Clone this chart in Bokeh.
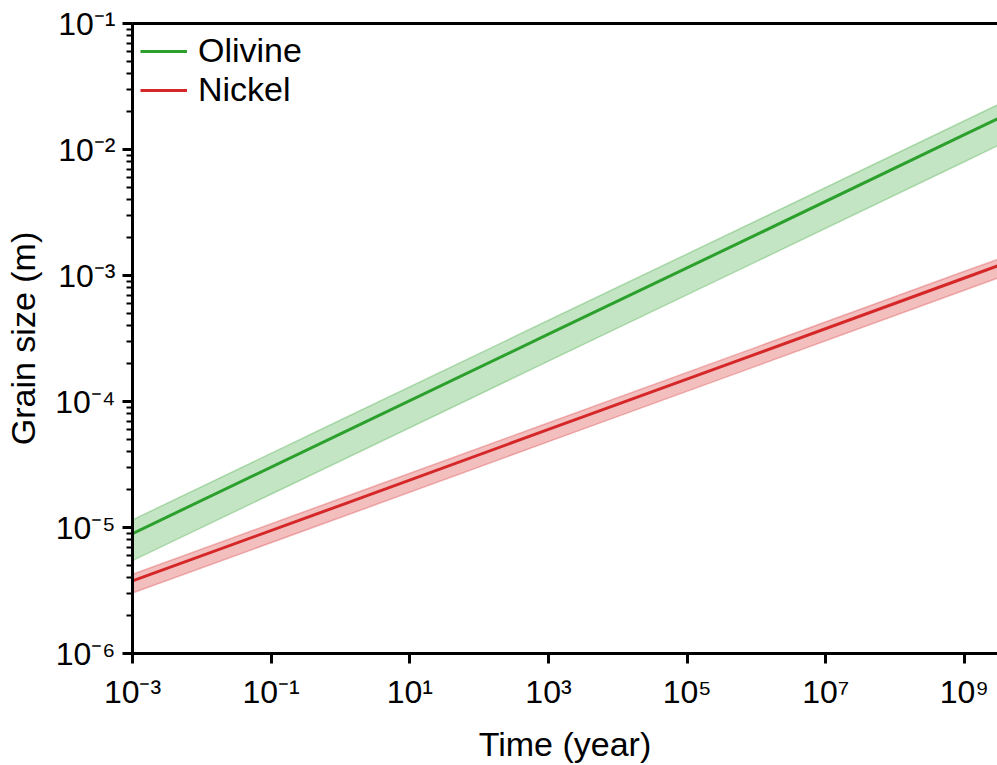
from bokeh.plotting import figure
from bokeh.models import FixedTicker, LogTicker, LogAxis, Legend, LegendItem, ColumnDataSource
from bokeh.embed import file_html
from bokeh.resources import INLINE

# Data (log-log straight lines with uncertainty bands)
time_year = [1e-3, 1e0, 1e3, 1e6, 1e9, 3e9]

olivine_mid = [8.95e-6, 5.53e-5, 3.42e-4, 2.11e-3, 1.31e-2, 1.75e-2]
olivine_hi = [1.15e-5, 7.13e-5, 4.41e-4, 2.72e-3, 1.69e-2, 2.26e-2]
olivine_lo = [5.46e-6, 3.37e-5, 2.09e-4, 1.29e-3, 7.99e-3, 1.07e-2]

nickel_mid = [3.77e-6, 1.50e-5, 6.00e-5, 2.39e-4, 9.55e-4, 1.19e-3]
nickel_hi = [4.26e-6, 1.70e-5, 6.78e-5, 2.70e-4, 1.08e-3, 1.34e-3]
nickel_lo = [3.02e-6, 1.20e-5, 4.80e-5, 1.91e-4, 7.64e-4, 9.52e-4]

x_ticks = [1e-3, 1e-1, 1e1, 1e3, 1e5, 1e7, 1e9]
x_tick_labels = ["10⁻³", "10⁻¹", "10¹", "10³", "10⁵", "10⁷", "10⁹"]
y_ticks = [1e-6, 1e-5, 1e-4, 1e-3, 1e-2, 1e-1]
y_tick_labels = ["10⁻⁶", "10⁻⁵", "10⁻⁴", "10⁻³", "10⁻²", "10⁻¹"]

GREEN = "#2ca02c"
RED = "#d62728"
FONT = "Liberation Sans"

p = figure(width=997, height=765, x_axis_type="log", y_axis_type="log",
           x_range=(1e-3, 3e9), y_range=(1e-6, 1e-1),
           output_backend="svg", toolbar_location=None,
           min_border_left=132, min_border_right=0, min_border_top=23, min_border_bottom=108)
p.outline_line_color = None
p.xgrid.visible = False
p.ygrid.visible = False
p.background_fill_color = "white"

src = ColumnDataSource(dict(t=time_year, om=olivine_mid, oh=olivine_hi, ol=olivine_lo,
                            nm=nickel_mid, nh=nickel_hi, nl=nickel_lo))

# bands
p.varea(x="t", y1="ol", y2="oh", source=src, fill_color=GREEN, fill_alpha=0.28)
p.line(x="t", y="oh", source=src, line_color=GREEN, line_alpha=0.3, line_width=1.5)
p.line(x="t", y="ol", source=src, line_color=GREEN, line_alpha=0.3, line_width=1.5)
p.varea(x="t", y1="nl", y2="nh", source=src, fill_color=RED, fill_alpha=0.3)
p.line(x="t", y="nh", source=src, line_color=RED, line_alpha=0.3, line_width=1.5)
p.line(x="t", y="nl", source=src, line_color=RED, line_alpha=0.3, line_width=1.5)

r_ol = p.line(x="t", y="om", source=src, line_color=GREEN, line_width=3)
r_ni = p.line(x="t", y="nm", source=src, line_color=RED, line_width=3)

legend = Legend(items=[LegendItem(label="Olivine", renderers=[r_ol]),
                       LegendItem(label="Nickel", renderers=[r_ni])],
                location="top_left")
legend.border_line_color = None
legend.background_fill_alpha = 0
legend.label_text_font = FONT
legend.label_text_font_size = "34px"
legend.label_text_color = "black"
legend.glyph_width = 47
legend.glyph_height = 38
legend.label_height = 38
legend.label_standoff = 11
legend.spacing = 0
legend.padding = 0
legend.margin = 8
p.add_layout(legend)

# axes
for ax in (p.xaxis[0], p.yaxis[0]):
    ax.axis_line_width = 3
    ax.major_tick_line_width = 3
    ax.minor_tick_line_width = 2
    ax.major_tick_out = 10
    ax.major_tick_in = 0
    ax.minor_tick_out = 6
    ax.minor_tick_in = 0
    ax.major_label_text_font = FONT
    ax.major_label_text_font_size = "32px"
    ax.major_label_text_color = "black"
    ax.axis_label_text_font = FONT
    ax.axis_label_text_font_size = "34px"
    ax.axis_label_text_font_style = "normal"
    ax.axis_label_text_color = "black"

p.xaxis.ticker = FixedTicker(ticks=x_ticks, minor_ticks=[])
p.xaxis.major_label_overrides = dict(zip(x_ticks, x_tick_labels))
p.xaxis.axis_label = "Time (year)"
p.xaxis.major_label_standoff = 10
p.xaxis.axis_label_standoff = 12

p.yaxis.ticker = LogTicker(num_minor_ticks=10)
p.yaxis.major_label_overrides = dict(zip(y_ticks, y_tick_labels))
p.yaxis.axis_label = "Grain size (m)"
p.yaxis.major_label_standoff = 7
p.yaxis.axis_label_standoff = 10

top = LogAxis(ticker=FixedTicker(ticks=[], minor_ticks=[]))
top.axis_line_width = 3
top.major_tick_line_color = None
top.minor_tick_line_color = None
top.major_label_text_font_size = "0px"
p.add_layout(top, "above")

open("out.html", "w").write(file_html(p, INLINE))
